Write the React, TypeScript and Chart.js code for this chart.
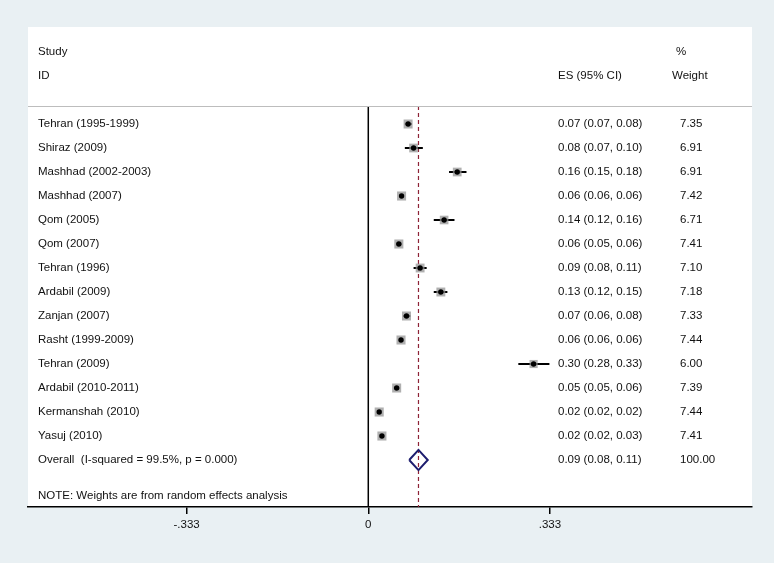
import React, { useEffect, useRef } from "react";
import { Chart, registerables } from "chart.js";

Chart.register(...registerables);

// ---------- data ----------
const studies = [
  "Tehran (1995-1999)",
  "Shiraz (2009)",
  "Mashhad (2002-2003)",
  "Mashhad (2007)",
  "Qom (2005)",
  "Qom (2007)",
  "Tehran (1996)",
  "Ardabil (2009)",
  "Zanjan (2007)",
  "Rasht (1999-2009)",
  "Tehran (2009)",
  "Ardabil (2010-2011)",
  "Kermanshah (2010)",
  "Yasuj (2010)",
];
const esValues = [0.073, 0.083, 0.163, 0.061, 0.139, 0.056, 0.095, 0.133, 0.07, 0.06, 0.303, 0.052, 0.02, 0.025];
const ciLower = [0.067, 0.067, 0.148, 0.057, 0.12, 0.051, 0.083, 0.12, 0.064, 0.056, 0.275, 0.047, 0.017, 0.021];
const ciUpper = [0.08, 0.1, 0.18, 0.065, 0.158, 0.061, 0.107, 0.145, 0.077, 0.064, 0.332, 0.057, 0.023, 0.029];
const esLabels = [
  "0.07 (0.07, 0.08)",
  "0.08 (0.07, 0.10)",
  "0.16 (0.15, 0.18)",
  "0.06 (0.06, 0.06)",
  "0.14 (0.12, 0.16)",
  "0.06 (0.05, 0.06)",
  "0.09 (0.08, 0.11)",
  "0.13 (0.12, 0.15)",
  "0.07 (0.06, 0.08)",
  "0.06 (0.06, 0.06)",
  "0.30 (0.28, 0.33)",
  "0.05 (0.05, 0.06)",
  "0.02 (0.02, 0.02)",
  "0.02 (0.02, 0.03)",
];
const weights = [7.35, 6.91, 6.91, 7.42, 6.71, 7.41, 7.1, 7.18, 7.33, 7.44, 6.0, 7.39, 7.44, 7.41];
const weightLabels = ["7.35", "6.91", "6.91", "7.42", "6.71", "7.41", "7.10", "7.18", "7.33", "7.44", "6.00", "7.39", "7.44", "7.41"];

const overallLabel = "Overall  (I-squared = 99.5%, p = 0.000)";
const overallES = 0.092;
const overallLower = 0.075;
const overallUpper = 0.109;
const overallESLabel = "0.09 (0.08, 0.11)";
const overallWeightLabel = "100.00";
const noteText = "NOTE: Weights are from random effects analysis";

const headerStudy = ["Study", "ID"];
const headerES = "ES (95% CI)";
const headerWeight = ["%", "Weight"];

const tickValues = [-0.333, 0, 0.333];
const tickLabels = ["-.333", "0", ".333"];

// ---------- layout constants ----------
const W = 774;
const H = 563;
const X_MIN = -0.6237;
const X_MAX = 0.7033;
const Y_MIN = -4.042;
const Y_MAX = 15.958;
const OVERALL_ROW = studies.length;
const NOTE_ROW = studies.length + 1.5;
const SEP_ROW = -0.75;
const FONT = "11.5px 'Liberation Sans', Arial, Helvetica, sans-serif";

const textPlugin = {
  id: "forestText",
  beforeDraw(chart: any) {
    const { ctx, chartArea } = chart;
    ctx.save();
    ctx.fillStyle = "#e9f0f3";
    ctx.fillRect(0, 0, chart.width, chart.height);
    ctx.fillStyle = "#ffffff";
    ctx.fillRect(chartArea.left, chartArea.top, chartArea.right - chartArea.left, chartArea.bottom - chartArea.top);
    ctx.restore();
  },
  afterDraw(chart: any) {
    const { ctx, chartArea, scales } = chart;
    const ys = scales.y;
    const left = chartArea.left;
    const colLabel = left + 10;
    const colES = left + 530;
    const colW = left + 652;
    ctx.save();
    // separator
    const sepY = Math.round(ys.getPixelForValue(SEP_ROW)) + 0.5;
    ctx.strokeStyle = "#bdbdbd";
    ctx.lineWidth = 1;
    ctx.beginPath();
    ctx.moveTo(chartArea.left, sepY);
    ctx.lineTo(chartArea.right, sepY);
    ctx.stroke();

    ctx.font = FONT;
    ctx.fillStyle = "#111111";
    ctx.textBaseline = "middle";
    ctx.textAlign = "left";
    ctx.fillText(headerStudy[0], colLabel, ys.getPixelForValue(-3));
    ctx.fillText(headerStudy[1], colLabel, ys.getPixelForValue(-2));
    ctx.fillText(headerES, colES, ys.getPixelForValue(-2));
    ctx.fillText(headerWeight[0], colW - 4, ys.getPixelForValue(-3));
    ctx.fillText(headerWeight[1], colW - 8, ys.getPixelForValue(-2));
    studies.forEach((s, i) => {
      const y = ys.getPixelForValue(i);
      ctx.fillText(s, colLabel, y);
      ctx.fillText(esLabels[i], colES, y);
      ctx.fillText(weightLabels[i], colW, y);
    });
    const yo = ys.getPixelForValue(OVERALL_ROW);
    ctx.fillText(overallLabel, colLabel, yo);
    ctx.fillText(overallESLabel, colES, yo);
    ctx.fillText(overallWeightLabel, colW, yo);
    ctx.fillText(noteText, colLabel, ys.getPixelForValue(NOTE_ROW));
    ctx.restore();
  },
};

export default function App() {
  const ref = useRef<HTMLCanvasElement | null>(null);

  useEffect(() => {
    if (!ref.current) return;

    const ciDatasets = studies.map((_, i) => ({
      type: "line" as const,
      data: [
        { x: ciLower[i], y: i },
        { x: ciUpper[i], y: i },
      ],
      showLine: true,
      borderColor: "#000000",
      borderWidth: 2,
      pointRadius: 0,
      order: 3,
    }));

    const datasets: any[] = [
      // black centre dots
      {
        type: "scatter",
        data: esValues.map((v, i) => ({ x: v, y: i })),
        pointStyle: "circle",
        pointRadius: 2.7,
        backgroundColor: "#000000",
        borderWidth: 0,
        order: 0,
      },
      // grey weight boxes
      {
        type: "scatter",
        data: esValues.map((v, i) => ({ x: v, y: i })),
        pointStyle: "rect",
        pointRadius: weights.map((w) => Math.sqrt(w) * 2.35),
        backgroundColor: "rgba(150,150,150,0.75)",
        borderWidth: 0,
        order: 1,
      },
      ...ciDatasets,
      // overall diamond
      {
        type: "line",
        data: [
          { x: overallLower, y: OVERALL_ROW },
          { x: overallES, y: OVERALL_ROW - 0.42 },
          { x: overallUpper, y: OVERALL_ROW },
          { x: overallES, y: OVERALL_ROW + 0.42 },
          { x: overallLower, y: OVERALL_ROW },
        ],
        showLine: true,
        borderColor: "#1c1c6e",
        borderWidth: 2,
        pointRadius: 0,
        fill: false,
        borderJoinStyle: "miter",
        order: 4,
      },
      // dashed overall line
      {
        type: "line",
        data: [
          { x: overallES, y: SEP_ROW },
          { x: overallES, y: Y_MAX },
        ],
        showLine: true,
        borderColor: "#8e2337",
        borderWidth: 1.2,
        borderDash: [4, 3],
        pointRadius: 0,
        order: 5,
      },
      // zero line
      {
        type: "line",
        data: [
          { x: 0, y: SEP_ROW },
          { x: 0, y: Y_MAX },
        ],
        showLine: true,
        borderColor: "#000000",
        borderWidth: 1.5,
        pointRadius: 0,
        order: 6,
      },
    ];

    const chart = new Chart(ref.current, {
      type: "scatter",
      data: { datasets },
      plugins: [textPlugin],
      options: {
        animation: false,
        responsive: false,
        devicePixelRatio: 1,
        layout: { padding: { left: 28, right: 22, top: 27, bottom: 0 } },
        plugins: { legend: { display: false }, tooltip: { enabled: false } },
        events: [],
        scales: {
          x: {
            type: "linear",
            min: X_MIN,
            max: X_MAX,
            afterBuildTicks: (scale: any) => {
              scale.ticks = tickValues.map((v) => ({ value: v }));
            },
            afterFit: (scale: any) => {
              scale.height = 56;
            },
            ticks: {
              autoSkip: false,
              maxRotation: 0,
              padding: 4,
              color: "#111111",
              font: { family: "'Liberation Sans', Arial, sans-serif", size: 11.5 },
              callback: (_v: any, idx: number) => tickLabels[idx],
            },
            grid: {
              display: true,
              drawOnChartArea: false,
              drawTicks: true,
              tickLength: 7,
              color: "#000000",
              lineWidth: 1.5,
            },
            border: { display: true, color: "#000000", width: 1.5 },
          },
          y: {
            type: "linear",
            min: Y_MIN,
            max: Y_MAX,
            reverse: true,
            display: false,
          },
        },
      },
    } as any);

    return () => chart.destroy();
  }, []);

  return (
    <div style={{ position: "absolute", left: 0, top: 0, width: W, height: H }}>
      <canvas ref={ref} width={W} height={H} style={{ display: "block", width: W, height: H }} />
    </div>
  );
}
